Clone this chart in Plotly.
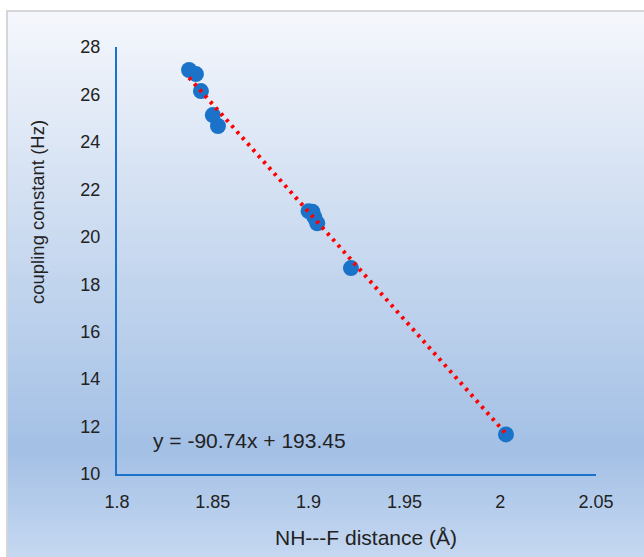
import plotly.graph_objects as go

# data
nh_f_distance = [1.8376, 1.8412, 1.8438, 1.8500, 1.8527, 1.9000, 1.9020, 1.9030, 1.9045, 1.9221, 2.0030]
coupling_hz = [27.03, 26.86, 26.14, 25.13, 24.67, 21.08, 21.05, 20.83, 20.57, 18.68, 11.67]
fit_slope = -90.74
fit_intercept = 193.45
x_ticks = [1.8, 1.85, 1.9, 1.95, 2.0, 2.05]
x_tick_labels = ["1.8", "1.85", "1.9", "1.95", "2", "2.05"]
y_ticks = [10, 12, 14, 16, 18, 20, 22, 24, 26, 28]

W, H = 644, 557
ml, mr, mt, mb = 117, 48, 47, 83
pw, ph = W - ml - mr, H - mt - mb

def px_to_paper_x(px):
    return (px - ml) / pw

def px_to_paper_y(py):
    return (H - mb - py) / ph

# gradient background (stripes)
stops = [(0.0, (245, 247, 252)), (0.80, (163, 192, 229)), (1.0, (198, 216, 241))]

def grad(t):
    for (t0, c0), (t1, c1) in zip(stops[:-1], stops[1:]):
        if t <= t1:
            f = (t - t0) / (t1 - t0)
            return tuple(round(a + (b - a) * f) for a, b in zip(c0, c1))
    return stops[-1][1]

shapes = []
top_px, bot_px = 10, 560
step = 3
y = top_px
while y < bot_px:
    t = (y - top_px) / (557 - top_px)
    c = grad(min(t, 1.0))
    shapes.append(dict(type="rect", xref="paper", yref="paper", layer="below",
                       x0=px_to_paper_x(7), x1=px_to_paper_x(650),
                       y0=px_to_paper_y(y), y1=px_to_paper_y(y + step + 0.5),
                       fillcolor="rgb(%d,%d,%d)" % c, line=dict(width=0)))
    y += step
shapes.append(dict(type="rect", xref="paper", yref="paper", layer="below",
                   x0=px_to_paper_x(7), x1=px_to_paper_x(660),
                   y0=px_to_paper_y(11), y1=px_to_paper_y(570),
                   fillcolor="rgba(0,0,0,0)", line=dict(color="#d6d6d6", width=2)))

x_fit = [min(nh_f_distance), max(nh_f_distance)]
y_fit = [fit_slope * v + fit_intercept for v in x_fit]

fig = go.Figure()
fig.add_trace(go.Scatter(x=nh_f_distance, y=coupling_hz, mode="markers",
                         marker=dict(size=16, color="#1a73c9"), showlegend=False))
fig.add_trace(go.Scatter(x=x_fit, y=y_fit, mode="lines",
                         line=dict(color="#ff0000", width=4, dash="3px,5px"), showlegend=False))

font_family = "Liberation Sans, Arial, sans-serif"
fig.update_layout(
    width=W, height=H,
    margin=dict(l=ml, r=mr, t=mt, b=mb),
    paper_bgcolor="white", plot_bgcolor="rgba(0,0,0,0)",
    shapes=shapes,
    font=dict(family=font_family, color="#222222"),
    xaxis=dict(range=[1.8, 2.05], tickvals=x_ticks, ticktext=x_tick_labels,
               showgrid=False, zeroline=False, showline=True, linecolor="#1a73c9", linewidth=2,
               ticks="", ticklabelstandoff=10, tickfont=dict(size=18)),
    yaxis=dict(range=[10, 28], tickvals=y_ticks,
               showgrid=False, zeroline=False, showline=True, linecolor="#1a73c9", linewidth=2,
               ticks="", ticklabelstandoff=11, tickfont=dict(size=18)),
    annotations=[
        dict(text="y = -90.74x + 193.45", x=1.8694, y=11.42, xref="x", yref="y",
             showarrow=False, font=dict(size=21, color="#222222")),
        dict(text="NH---F distance (Å)", x=px_to_paper_x(366), y=px_to_paper_y(537),
             xref="paper", yref="paper",
             showarrow=False, font=dict(size=21, color="#222222"), xanchor="center", yanchor="middle"),
        dict(text="coupling constant (Hz)", x=px_to_paper_x(37), y=px_to_paper_y(212),
             xref="paper", yref="paper", textangle=-90,
             showarrow=False, font=dict(size=18.5, color="#222222"), xanchor="center", yanchor="middle"),
    ],
)

fig.write_html("out.html")
